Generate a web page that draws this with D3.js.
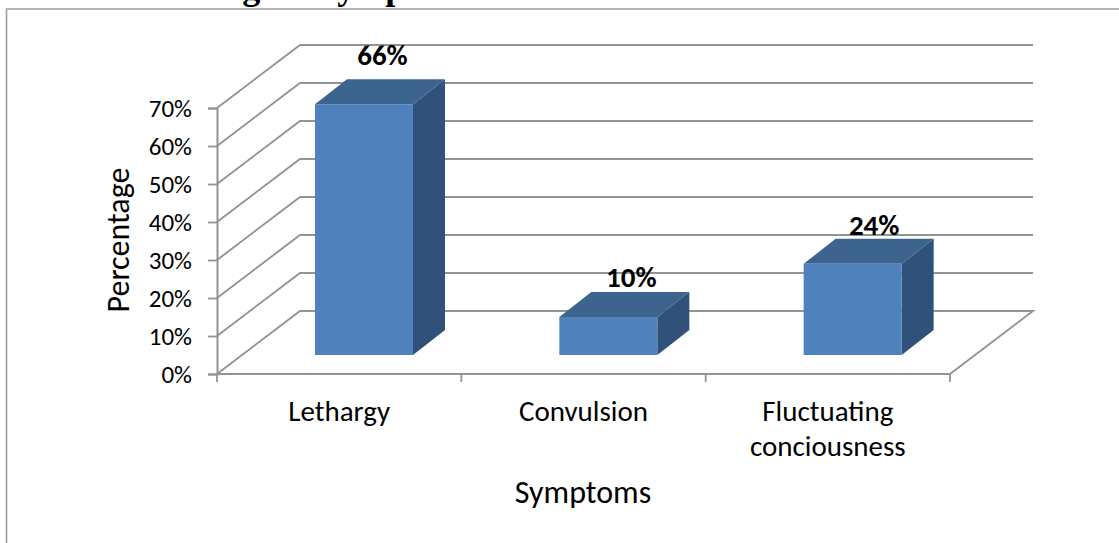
<!DOCTYPE html>
<html><head><meta charset="utf-8">
<script src="https://cdn.jsdelivr.net/npm/d3@7/dist/d3.min.js"></script>
<style>html,body{margin:0;padding:0;background:#fff;overflow:hidden}svg{display:block}</style></head>
<body><svg id="c" width="1119" height="543"></svg>
<script>
const categories = ["Lethargy", "Convulsion", "Fluctuating conciousness"];
const values = [66, 10, 24];
const valueLabels = ["66%", "10%", "24%"];
const tickValues = [0, 10, 20, 30, 40, 50, 60, 70];
const yTitle = "Percentage";
const xTitle = "Symptoms";
const headingNumber = "4.1.1";
const heading = "Neurological symptoms";

const svg = d3.select("#c");
const font = "Carlito, Calibri, 'Liberation Sans', Lato, sans-serif";
const grey = "#939393";
const serif = "'Liberation Serif', serif";
svg.append("text").attr("x",32).attr("y",-1).attr("font-family",serif).attr("font-weight","bold").attr("font-size",36).attr("fill","#000").text(headingNumber);
svg.append("text").attr("x",119).attr("y",-1).attr("font-family",serif).attr("font-weight","bold").attr("font-size",36).attr("fill","#000").text(heading);
svg.append("path").attr("fill","none").attr("stroke","#9c9c9c").attr("stroke-width",1.6).attr("d","M6.5,543V9H1119");

const x = d3.scaleBand().domain(categories).range([217,950]);
const y = d3.scaleLinear().domain([0,70]).range([374,108]);
const dx = 83, dy = -63, bx = 98, by = -19, bdx = 32, bdy = -25, barW = 98;

const g = svg.append("g");
tickValues.forEach(t=>{
  g.append("path").attr("fill","none").attr("stroke",grey).attr("stroke-width",1.9)
   .attr("d",d3.line()([[217,y(t)],[217+dx,y(t)+dy],[950+dx,y(t)+dy],...(t===0?[[950,y(t)]]:[])]));
});
g.append("g").attr("transform","translate(217,0)").call(d3.axisLeft(y).tickValues(tickValues).tickSize(9).tickFormat(d=>d+"%"))
 .call(a=>{a.select(".domain").attr("stroke",grey).attr("stroke-width",2);a.selectAll("line").attr("stroke",grey).attr("stroke-width",1.8);
   a.selectAll("text").attr("font-family",font).attr("font-size",25).attr("fill","#000").attr("x",-25);});
g.append("line").attr("x1",217).attr("x2",950).attr("y1",374).attr("y2",374).attr("stroke",grey).attr("stroke-width",2.2);
[...categories.map(c=>x(c)),950].forEach(px=>g.append("line").attr("x1",px).attr("x2",px).attr("y1",374).attr("y2",382).attr("stroke",grey).attr("stroke-width",1.8));

categories.forEach((c,i)=>{
  const fx = x(c)+bx, fb = y(0)+by, ft = y(values[i])+by;
  g.append("path").attr("fill","#30527a").attr("d",d3.line()([[fx+barW,ft],[fx+barW+bdx,ft+bdy],[fx+barW+bdx,fb+bdy],[fx+barW,fb]])+"Z");
  g.append("path").attr("fill","#3d638f").attr("d",d3.line()([[fx,ft],[fx+bdx,ft+bdy],[fx+barW+bdx,ft+bdy],[fx+barW,ft]])+"Z");
  g.append("rect").attr("x",fx).attr("y",ft).attr("width",barW).attr("height",fb-ft).attr("fill","#4f81bd");
  g.append("text").attr("x",fx+barW/2+[18.5,23,21.5][i]).attr("y",[65,287,235][i]).attr("text-anchor","middle").attr("font-family",font).attr("font-weight","bold").attr("font-size",29).attr("fill","#000").text(valueLabels[i]);
});
const catLines = [["Lethargy"],["Convulsion"],["Fluctuating","conciousness"]];
categories.forEach((c,i)=>{
  const cx = x(c)+x.bandwidth()/2;
  catLines[i].forEach((l,j)=>g.append("text").attr("x",cx).attr("y",421+j*35).attr("text-anchor","middle").attr("font-family",font).attr("font-size",29).attr("fill","#000").text(l));
});
g.append("text").attr("x",583).attr("y",503).attr("text-anchor","middle").attr("font-family",font).attr("font-size",32).attr("fill","#000").text(xTitle);
g.append("text").attr("transform","translate(129,240) rotate(-90)").attr("text-anchor","middle").attr("font-family",font).attr("font-size",32).attr("fill","#000").text(yTitle);
</script></body></html>
